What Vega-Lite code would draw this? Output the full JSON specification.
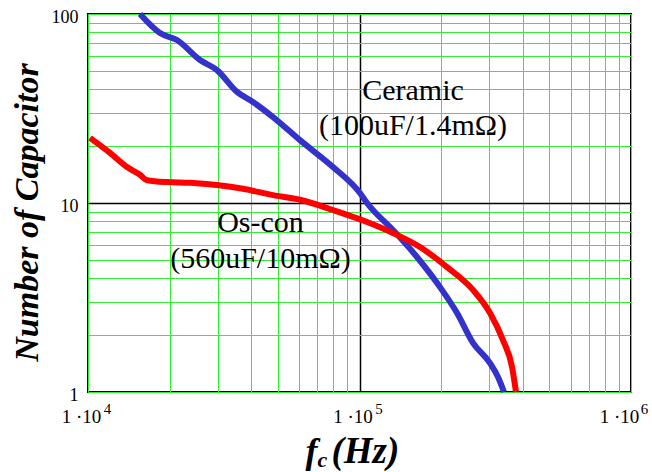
{
  "$schema": "https://vega.github.io/schema/vega-lite/v6.json",
  "width": 543,
  "height": 378,
  "autosize": {"type": "none"},
  "padding": {"left": 88, "top": 14, "right": 21, "bottom": 80},
  "background": "white",
  "config": {
    "view": {"stroke": "black", "strokeWidth": 2},
    "font": "Liberation Serif"
  },
  "datasets": {
    "ceramic": [
      {"f": 15540, "n": 100},
      {"f": 18420, "n": 79.3},
      {"f": 21270, "n": 72.8},
      {"f": 25850, "n": 57.1},
      {"f": 29870, "n": 50.5},
      {"f": 35390, "n": 38.7},
      {"f": 40520, "n": 34.2},
      {"f": 48030, "n": 28.5},
      {"f": 60370, "n": 21.5},
      {"f": 79870, "n": 15.5},
      {"f": 100400, "n": 11.3},
      {"f": 106600, "n": 10.0},
      {"f": 132800, "n": 7.2},
      {"f": 162800, "n": 5.18},
      {"f": 197900, "n": 3.59},
      {"f": 228700, "n": 2.62},
      {"f": 261800, "n": 1.82},
      {"f": 302500, "n": 1.42},
      {"f": 323700, "n": 1.2},
      {"f": 340600, "n": 1.0}
    ],
    "oscon": [
      {"f": 10170, "n": 22.1},
      {"f": 12050, "n": 18.4},
      {"f": 13920, "n": 15.5},
      {"f": 15540, "n": 14.1},
      {"f": 16500, "n": 13.2},
      {"f": 19540, "n": 12.9},
      {"f": 23760, "n": 12.8},
      {"f": 29870, "n": 12.45},
      {"f": 37230, "n": 11.9},
      {"f": 48030, "n": 11.0},
      {"f": 60370, "n": 10.4},
      {"f": 79870, "n": 9.18},
      {"f": 106600, "n": 7.94},
      {"f": 132800, "n": 6.94},
      {"f": 167000, "n": 5.85},
      {"f": 210100, "n": 4.58},
      {"f": 261800, "n": 3.47},
      {"f": 302500, "n": 2.62},
      {"f": 337700, "n": 1.88},
      {"f": 364500, "n": 1.36},
      {"f": 377100, "n": 1.0}
    ],
    "labels": [
      {"f": 157400, "n": 35.1, "label": "Ceramic"},
      {"f": 157400, "n": 22.9, "label": "(100uF/1.4mΩ)"},
      {"f": 43190, "n": 7.02, "label": "Os-con"},
      {"f": 43190, "n": 4.53, "label": "(560uF/10mΩ)"}
    ]
  },
  "resolve": {"axis": {"x": "independent", "y": "independent"}},
  "layer": [
    {
      "data": {"name": "ceramic"},
      "mark": {"type": "line", "color": "#3333cc", "strokeWidth": 6, "interpolate": "monotone"},
      "encoding": {
        "x": {
          "field": "f", "type": "quantitative",
          "scale": {"type": "log", "domain": [10000, 1000000], "nice": false},
          "axis": {
            "orient": "bottom",
            "values": [10000, 20000, 30000, 40000, 50000, 60000, 70000, 80000, 90000, 100000, 200000, 300000, 400000, 500000, 600000, 700000, 800000, 900000, 1000000],
            "labelExpr": "datum.value == 10000 || datum.value == 100000 || datum.value == 1000000 ? '1 ·10' : ''",
            "labelFont": "Liberation Serif", "labelFontSize": 19, "labelColor": "black",
            "labelPadding": 15,
            "labelOffset": {"condition": {"test": "datum.value == 1000000", "value": -12}, "value": -7},
            "labelFlush": false, "labelOverlap": false,
            "ticks": false, "domain": false,
            "grid": true,
            "gridColor": {"condition": {"test": "datum.value == 100000", "value": "black"}, "value": "#33ee33"},
            "gridWidth": {"condition": {"test": "datum.value == 100000", "value": 1.5}, "value": 1},
            "gridOpacity": 1,
            "title": "(Hz)",
            "titleFont": "Liberation Serif", "titleFontSize": 37, "titleFontWeight": "bold", "titleFontStyle": "italic", "titleColor": "black",
            "titleX": 243, "titleY": 70, "titleAlign": "left", "titleBaseline": "alphabetic"
          }
        },
        "y": {
          "field": "n", "type": "quantitative",
          "scale": {"type": "log", "domain": [1, 100], "nice": false},
          "axis": {
            "values": [1, 2, 3, 4, 5, 6, 7, 8, 9, 10, 20, 30, 40, 50, 60, 70, 80, 90, 100],
            "labelExpr": "datum.value == 1 ? '1' : datum.value == 10 ? '10' : datum.value == 100 ? '100' : ''",
            "labelFont": "Liberation Serif", "labelFontSize": 18, "labelColor": "black",
            "labelPadding": 10, "labelOffset": 3, "labelFlush": false, "labelOverlap": false, "labelBaseline": "middle",
            "ticks": false, "domain": false,
            "grid": true,
            "gridColor": {"condition": {"test": "datum.value == 10", "value": "black"}, "value": "#33ee33"},
            "gridWidth": {"condition": {"test": "datum.value == 10", "value": 1.5}, "value": 1},
            "gridOpacity": 1,
            "title": "Number of Capacitor",
            "titleFont": "Liberation Serif", "titleFontSize": 34, "titleFontWeight": "bold", "titleFontStyle": "italic", "titleColor": "black",
            "titleX": -51, "titleY": 198, "titleAngle": -90, "titleAlign": "center", "titleBaseline": "alphabetic"
          }
        }
      }
    },
    {
      "data": {"name": "oscon"},
      "mark": {"type": "line", "color": "#ff0000", "strokeWidth": 6, "interpolate": "monotone"},
      "encoding": {
        "x": {
          "field": "f", "type": "quantitative",
          "axis": {
            "orient": "bottom",
            "values": [10000, 100000, 1000000],
            "labelExpr": "datum.value == 10000 ? '4' : datum.value == 100000 ? '5' : '6'",
            "labelFont": "Liberation Serif", "labelFontSize": 15, "labelColor": "black",
            "labelPadding": 9,
            "labelOffset": {"condition": {"test": "datum.value == 1000000", "value": 13}, "value": 19},
            "labelFlush": false, "labelOverlap": false,
            "ticks": false, "domain": false, "grid": false,
            "title": "f",
            "titleFont": "Liberation Serif", "titleFontSize": 36, "titleFontWeight": "bold", "titleFontStyle": "italic", "titleColor": "black",
            "titleX": 217, "titleY": 70, "titleAlign": "left", "titleBaseline": "alphabetic"
          }
        },
        "y": {"field": "n", "type": "quantitative", "axis": null}
      }
    },
    {
      "data": {"name": "labels"},
      "mark": {"type": "text", "font": "Liberation Serif", "fontSize": 30, "align": "center", "baseline": "alphabetic", "color": "black"},
      "encoding": {
        "x": {
          "field": "f", "type": "quantitative",
          "axis": {
            "orient": "bottom", "labels": false, "ticks": false, "domain": false, "grid": false,
            "title": "c",
            "titleFont": "Liberation Serif", "titleFontSize": 22, "titleFontWeight": "bold", "titleFontStyle": "italic", "titleColor": "black",
            "titleX": 229, "titleY": 74, "titleAlign": "left", "titleBaseline": "alphabetic"
          }
        },
        "y": {"field": "n", "type": "quantitative", "axis": null},
        "text": {"field": "label"}
      }
    }
  ]
}
